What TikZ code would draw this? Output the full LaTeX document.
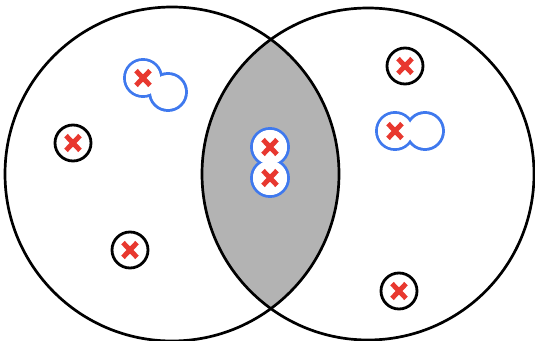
\documentclass[tikz,border=0pt]{standalone}
\usetikzlibrary{positioning}
\definecolor{accent1}{HTML}{E8382F}
\definecolor{accent2}{HTML}{3F79EE}
\definecolor{accent3}{HTML}{B3B3B3}

\tikzset{
  dotring/.style={circle, draw=black, line width=2.4pt, fill=white, minimum size=1.08cm, inner sep=0pt},
  bluering/.style={circle, draw=accent2, line width=5pt, minimum size=1.02cm, inner sep=0pt},
  hole/.style={circle, fill=white, minimum size=1.02cm, inner sep=0pt},
  xmark/.style={path picture={
    \draw[accent1, line width=4.2pt] ([shift={(-0.21cm,-0.22cm)}]path picture bounding box.center) -- ([shift={(0.21cm,0.22cm)}]path picture bounding box.center);
    \draw[accent1, line width=4.2pt] ([shift={(-0.21cm,0.22cm)}]path picture bounding box.center) -- ([shift={(0.21cm,-0.22cm)}]path picture bounding box.center);
  }}
}

\begin{document}
\begin{tikzpicture}[x=0.03cm, y=-0.03cm]
\useasboundingbox (0,0) rectangle (535,341);
\coordinate (cl) at (172,174);
\coordinate (cr) at (368,174);
% shaded overlap
\begin{scope}
\clip (cl) circle (167);
\fill[accent3] (cr) circle (166);
\end{scope}
\draw[line width=2.3pt] (cl) circle (167);
\draw[line width=2.3pt] (cr) circle (166);
% single elements
\node[dotring, xmark] (a1) at (73,143) {};
\node[dotring, xmark] (a2) at (130,250) {};
\node[dotring, xmark] (b1) at (405,66) {};
\node[dotring, xmark] (b2) at (399,291) {};
% blue pairs
\node[bluering] (u1) at (143,78) {};
\node[bluering] (u2) at (168,92) {};
\node[bluering] (v1) at (395,131) {};
\node[bluering] (v2) at (425,131) {};
\node[bluering] (w1) at (270,147) {};
\node[bluering] (w2) at (270,178) {};
\foreach \n in {u1,u2,v1,v2,w1,w2}
  \node[hole] (\n h) at (\n) {};
\foreach \n in {u1,v1,w1,w2}
  \node[hole, xmark] (\n x) at (\n) {};
\end{tikzpicture}
\end{document}
